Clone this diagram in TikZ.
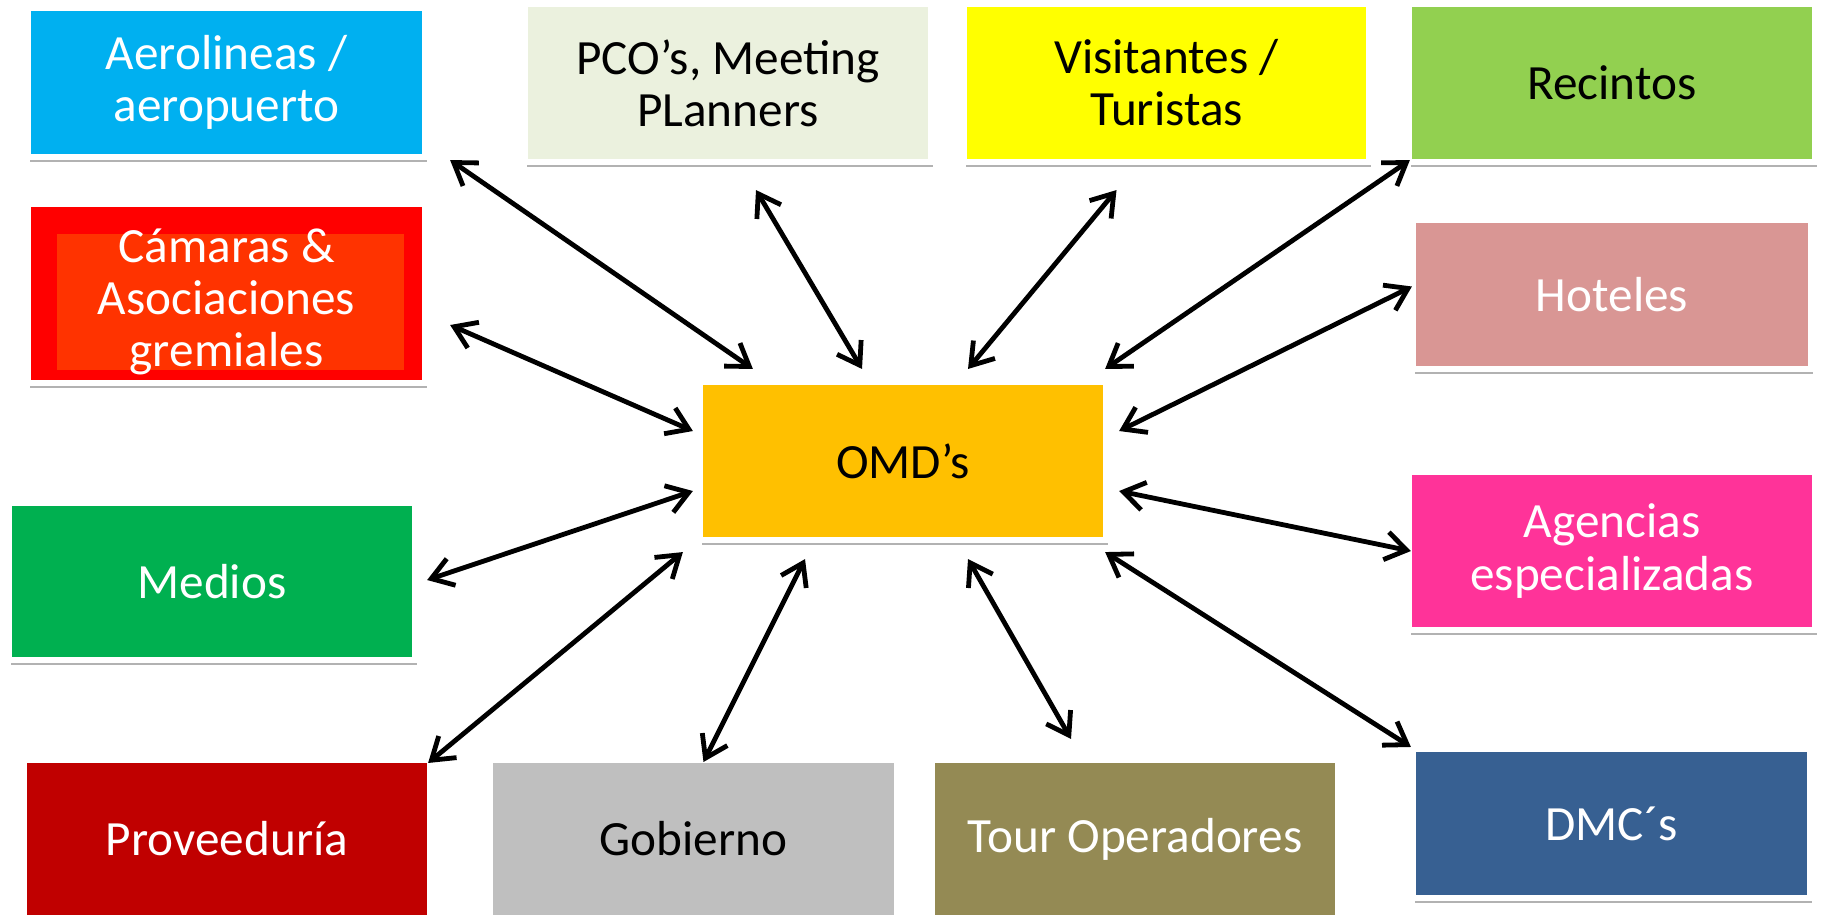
\documentclass[tikz,border=0pt]{standalone}
\usepackage{fontspec}
\setmainfont{Carlito}
\usetikzlibrary{arrows.meta,shadows}
\definecolor{aeroblue}{RGB}{0,176,240}
\definecolor{pcogray}{RGB}{235,241,222}
\definecolor{visityellow}{RGB}{255,255,0}
\definecolor{recintgreen}{RGB}{146,208,80}
\definecolor{camred}{RGB}{255,0,0}
\definecolor{camorange}{RGB}{255,51,0}
\definecolor{hotelrose}{RGB}{217,150,148}
\definecolor{omdgold}{RGB}{255,192,0}
\definecolor{mediosgreen}{RGB}{0,176,80}
\definecolor{agencpink}{RGB}{255,51,153}
\definecolor{provred}{RGB}{192,0,0}
\definecolor{gobgray}{RGB}{191,191,191}
\definecolor{tourolive}{RGB}{148,138,84}
\definecolor{dmcblue}{RGB}{55,96,146}

\begin{document}
\begin{tikzpicture}[x=0.01cm, y=-0.01cm,
	box/.style={draw=white, line width=0.06cm, align=center, inner sep=0pt,
		font=\fontsize{14}{14.8}\selectfont,
		drop shadow={shadow xshift=0.02cm, shadow yshift=-0.05cm, fill=black, opacity=0.3}},
	boxsize/.style 2 args={minimum width=#1, minimum height=#2},
	link/.style={<->, line width=0.048cm, >={Straight Barb[length=2.1mm, width=2.8mm]}}]
	\useasboundingbox (0, 0) rectangle (1822, 917);
	% top row
	\node[box, fill=aeroblue, text=white, boxsize={3.97cm}{1.49cm}] (aero) at (226.5, 82.5) {Aerolineas /\\aeropuerto};
	\node[box, fill=pcogray, boxsize={4.06cm}{1.58cm}] (pco) at (728, 83) {PCO’s, Meeting\\PLanners};
	\node[box, fill=visityellow, boxsize={4.05cm}{1.58cm}] (visit) at (1166.5, 83) {Visitantes /\\Turistas};
	\node[box, fill=recintgreen, boxsize={4.06cm}{1.58cm}] (recint) at (1612, 83) {Recintos};
	% middle rows
	\node[box, fill=camred, text=white, boxsize={3.97cm}{1.79cm},
		path picture={\fill[camorange] ([shift={(29,30)}]path picture bounding box.north west)
			rectangle ([shift={(-21,-13)}]path picture bounding box.south east);}]
		(camaras) at (226.5, 293.5) {\rule{0pt}{0.5cm}Cámaras \&\\Asociaciones\\gremiales};
	\node[box, fill=hotelrose, text=white, boxsize={3.98cm}{1.49cm}] (hotel) at (1612, 294.5) {Hoteles};
	\node[box, fill=omdgold, boxsize={4.06cm}{1.58cm}] (omd) at (903, 461) {OMD’s};
	\node[box, fill=mediosgreen, text=white, boxsize={4.06cm}{1.57cm}] (medios) at (212, 581.5) {Medios};
	\node[box, fill=agencpink, text=white, boxsize={4.06cm}{1.58cm}] (agenc) at (1612, 551) {Agencias\\especializadas};
	% bottom row
	\node[box, fill=dmcblue, text=white, boxsize={3.97cm}{1.49cm}] (dmc) at (1611.5, 823.5) {DMC´s};
	\node[box, fill=provred, text=white, boxsize={4.06cm}{1.58cm}] (prov) at (227, 839) {Proveeduría};
	\node[box, fill=gobgray, boxsize={4.07cm}{1.58cm}] (gob) at (693.5, 839) {Gobierno};
	\node[box, fill=tourolive, text=white, boxsize={4.06cm}{1.58cm}] (tour) at (1135, 839) {Tour Operadores};
	% links to the centre
	\draw[link] ([shift={(22,0)}]aero.south east) -- ([shift={(56,-10)}]omd.north west);
	\draw[link] ([shift={(28,25)}]pco.south) -- ([shift={(-41,-10)}]omd.north);
	\draw[link] ([shift={(-50,25)}]visit.south) -- ([shift={(65,-10)}]omd.north);
	\draw[link] ([shift={(4,-5)}]recint.south west) -- ([shift={(-4,-10)}]omd.north east);
	\draw[link] ([shift={(2,-8)}]hotel.west) -- ([shift={(10,-30)}]omd.east);
	\draw[link] ([shift={(5,0)}]agenc.west) -- ([shift={(10,30)}]omd.east);
	\draw[link] ([shift={(1,1)}]dmc.north west) -- ([shift={(-4,9)}]omd.south east);
	\draw[link] ([shift={(-64,-18)}]tour.north) -- ([shift={(65,16)}]omd.south);
	\draw[link] ([shift={(10,5)}]gob.north) -- ([shift={(-98,16)}]omd.south);
	\draw[link] ([shift={(-5,6)}]prov.north east) -- ([shift={(-14,9)}]omd.south west);
	\draw[link] ([shift={(9,-1.5)}]medios.east) -- ([shift={(-4,30)}]omd.west);
	\draw[link] ([shift={(22,31.5)}]camaras.east) -- ([shift={(-4,-30)}]omd.west);
\end{tikzpicture}
\end{document}
